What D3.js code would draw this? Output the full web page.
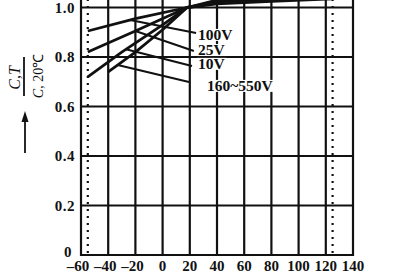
<!DOCTYPE html>
<html>
<head>
<meta charset="utf-8">
<script src="https://cdn.jsdelivr.net/npm/d3@7"></script>
<style>
  body { margin: 0; background: #fff; }
  svg { display: block; }
  .tick-label { font-family: "Liberation Serif", "Times New Roman", serif; font-weight: bold; fill: #111; }
</style>
</head>
<body>
<div id="chart"></div>
<script>
// axis ticks
var tempTicks = [-60, -40, -20, 0, 20, 40, 60, 80, 100, 120, 140];
var ratioTicks = [0, 0.2, 0.4, 0.6, 0.8, 1.0];
var rangeLimits = [-55, 125];

// curves: C(T) / C(20C)
var temps100 = [-55, -20, 18, 40, 80, 125];
var ratios100 = [0.905, 0.955, 1.0, 1.015, 1.025, 1.035];
var temps25 = [-55, -20, 18, 40, 80, 125];
var ratios25 = [0.82, 0.905, 1.0, 1.02, 1.03, 1.04];
var temps10 = [-55, -30, 0, 18, 40, 80];
var ratios10 = [0.72, 0.82, 0.93, 1.0, 1.025, 1.04];
var temps160 = [-40, -20, 0, 18, 40, 80];
var ratios160 = [0.74, 0.82, 0.91, 1.0, 1.03, 1.045];

// labels + leader lines
var seriesNames = ["100V", "25V", "10V", "160~550V"];
var leaderStartT = [-24, -20, -27, -33];
var leaderEndT = [24.6, 23, 21.6, 19.4];
var leaderEndV = [0.897, 0.824, 0.764, 0.699];
var labelT = [26, 26, 26, 32.6];
var labelV = [0.869, 0.808, 0.752, 0.663];

var svgWidth = 400;
var svgHeight = 272;

var svg = d3.select("#chart")
  .append("svg")
  .attr("width", svgWidth)
  .attr("height", svgHeight);

// scales
var x = d3.scaleLinear().domain([-60, 140]).range([81, 353]);
var y = d3.scaleLinear().domain([0, 1]).range([255, 7.5]);
var yTop = y.invert(0);

var ink = "#111";

// clip for the plot area (picture is cut at the top)
svg.append("defs").append("clipPath")
  .attr("id", "plotClip")
  .append("rect")
  .attr("x", x(-60))
  .attr("y", 0)
  .attr("width", x(140) - x(-60))
  .attr("height", y(0));

// horizontal grid
svg.append("g").selectAll("line")
  .data(ratioTicks)
  .enter()
  .append("line")
  .attr("x1", x(-60))
  .attr("x2", x(140))
  .attr("y1", d => y(d))
  .attr("y2", d => y(d))
  .attr("stroke", ink)
  .attr("stroke-width", 2);

// vertical grid
svg.append("g").selectAll("line")
  .data(tempTicks)
  .enter()
  .append("line")
  .attr("x1", d => x(d))
  .attr("x2", d => x(d))
  .attr("y1", y(0) + 1)
  .attr("y2", y(yTop))
  .attr("stroke", ink)
  .attr("stroke-width", 2.2);

// dotted limits -55 / 125
svg.append("g").selectAll("line")
  .data(rangeLimits)
  .enter()
  .append("line")
  .attr("x1", d => x(d))
  .attr("x2", d => x(d))
  .attr("y1", y(0) - 2)
  .attr("y2", y(yTop))
  .attr("stroke", ink)
  .attr("stroke-width", 2.2)
  .attr("stroke-dasharray", "2,5");

// x tick labels
svg.append("g").selectAll("text")
  .data(tempTicks)
  .enter()
  .append("text")
  .attr("class", "tick-label")
  .attr("x", d => x(d) - (d < 0 ? 3 : 0))
  .attr("y", 271)
  .attr("text-anchor", "middle")
  .attr("font-size", 15)
  .text(d => d < 0 ? "\u2013" + Math.abs(d) : d);

// y tick labels
svg.append("g").selectAll("text")
  .data(ratioTicks)
  .enter()
  .append("text")
  .attr("class", "tick-label")
  .attr("x", d => d === 0 ? 72 : 75)
  .attr("y", d => y(d) + 5 - (d === 0 ? 3 : 0))
  .attr("text-anchor", "end")
  .attr("font-size", 15)
  .attr("letter-spacing", 0.5)
  .text(d => d === 0 ? "0" : d3.format(".1f")(d));

// curves
var curves = [
  { name: seriesNames[0], t: temps100, v: ratios100 },
  { name: seriesNames[1], t: temps25, v: ratios25 },
  { name: seriesNames[2], t: temps10, v: ratios10 },
  { name: seriesNames[3], t: temps160, v: ratios160 }
];

var line = d3.line()
  .x(d => x(d[0]))
  .y(d => y(d[1]));

var curveGroup = svg.append("g").attr("clip-path", "url(#plotClip)");

curveGroup.selectAll("path")
  .data(curves)
  .enter()
  .append("path")
  .attr("d", d => line(d.t.map((t, i) => [t, d.v[i]])))
  .attr("fill", "none")
  .attr("stroke", ink)
  .attr("stroke-width", 2.8)
  .attr("stroke-linejoin", "round");

// label boxes, text and leader lines
var labelGroup = svg.append("g");

curves.forEach(function(c, i) {
  var interp = d3.scaleLinear().domain(c.t).range(c.v);
  var t0 = leaderStartT[i];

  labelGroup.append("line")
    .attr("x1", x(t0))
    .attr("y1", y(interp(t0)))
    .attr("x2", x(leaderEndT[i]))
    .attr("y2", y(leaderEndV[i]))
    .attr("stroke", ink)
    .attr("stroke-width", 2);

  var txt = labelGroup.append("text")
    .attr("class", "tick-label")
    .attr("x", x(labelT[i]))
    .attr("y", y(labelV[i]))
    .attr("font-size", 15.5)
    .text(c.name);

  var bb = txt.node().getBBox();
  labelGroup.insert("rect", "text")
    .attr("x", bb.x - 1)
    .attr("y", bb.y + 3)
    .attr("width", bb.width + 2)
    .attr("height", bb.height - 5)
    .attr("fill", "#fff");
});

// y axis title: C,T / C,20C with an arrow
var title = svg.append("g")
  .attr("font-family", "Liberation Serif, serif")
  .attr("fill", ink);

title.append("text")
  .attr("transform", "translate(20,78) rotate(-90)")
  .attr("text-anchor", "middle")
  .attr("font-size", 16)
  .attr("font-style", "italic")
  .text("C,T");

title.append("line")
  .attr("x1", 24).attr("x2", 24)
  .attr("y1", 57).attr("y2", 96)
  .attr("stroke", ink)
  .attr("stroke-width", 1.8);

title.append("text")
  .attr("transform", "translate(43,76) rotate(-90)")
  .attr("text-anchor", "middle")
  .attr("font-size", 14)
  .html("<tspan font-style='italic'>C</tspan>, 20\u2103");

title.append("line")
  .attr("x1", 25).attr("x2", 25)
  .attr("y1", 120).attr("y2", 153)
  .attr("stroke", ink)
  .attr("stroke-width", 1.8);

title.append("path")
  .attr("d", "M25,111 L21.5,122 L28.5,122 Z")
  .attr("fill", ink);
</script>
</body>
</html>
